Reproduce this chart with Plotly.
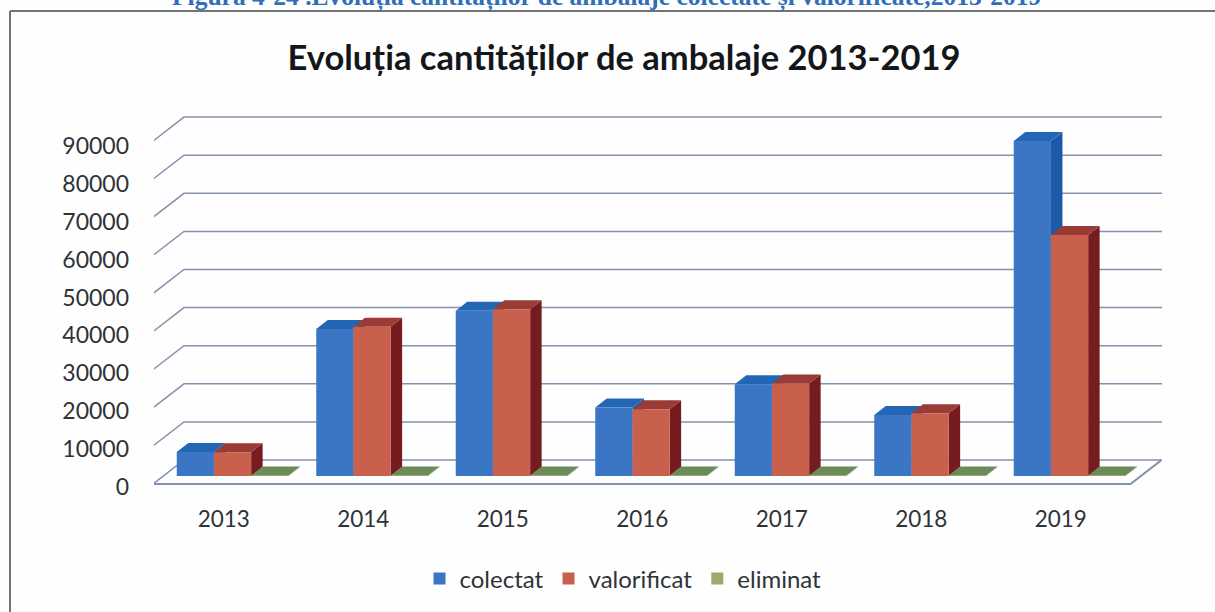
import plotly.graph_objects as go

years = [2013, 2014, 2015, 2016, 2017, 2018, 2019]
colectat = [6300, 38600, 43400, 18000, 24050, 16000, 87900]
valorificat = [6250, 39200, 43750, 17500, 24300, 16450, 63250]
eliminat = [100, 100, 100, 100, 100, 100, 100]
y_ticks = [0, 10000, 20000, 30000, 40000, 50000, 60000, 70000, 80000, 90000]

W, H = 1215, 612
L, R, T, B = 154, 53, 100, 122
BELOW_FLOOR = 6
PX_YEAR = 139.5
PX_UNIT = 38.1 / 10000
LABEL_PX_UNIT = 37.8 / 10000   # the tick labels of the picture sit a little apart from its gridlines
LABEL_DROP = 3.5
to_x = lambda px: px / PX_YEAR
to_y = lambda px: px / PX_UNIT
paper_x = lambda px: (px - L) / (W - L - R)
paper_y = lambda px: (H - B - px) / (H - T - B)

x_range = [2012.5, 2012.5 + to_x(W - L - R)]
y_range = [-to_y(BELOW_FLOOR), to_y(H - T - B - BELOW_FLOOR)]
label_range = [-LABEL_DROP / LABEL_PX_UNIT, (H - T - B - LABEL_DROP) / LABEL_PX_UNIT]
BAR_W = to_x(37.2)
BAR_START = to_x(-47)
BASE = to_y(8)
DX, DY = to_x(11.5), to_y(9)
WALL_DX, WALL_DY = to_x(31), to_y(24)
FLOOR_L, FLOOR_R = 2012.5 - to_x(1), 2019.5

GRID = "#8492AC"
series = [
    ("colectat", colectat, "#3A76C4", "#2466B6", "#1B5AA6"),
    ("valorificat", valorificat, "#C9604E", "#9A3B36", "#761C1F"),
    ("eliminat", eliminat, "#9AAB6A", "#6B8C5A", "#5A7A4C"),
]


def poly(pts, fill):
    path = "M" + " L".join(f"{a},{b}" for a, b in pts) + " Z"
    return dict(type="path", path=path, xref="x", yref="y", layer="below",
                fillcolor=fill, line=dict(width=0))


shapes = []
for t in y_ticks:
    shapes.append(dict(
        type="path", xref="x", yref="y", layer="below",
        path=(f"M{FLOOR_L},{t} L{FLOOR_L + WALL_DX},{t + WALL_DY} "
              f"L{x_range[1]},{t + WALL_DY}"),
        line=dict(color=GRID, width=1.5)))
shapes.append(dict(
    type="path", xref="x", yref="y", layer="below",
    path=(f"M{FLOOR_L},0 L{FLOOR_R},0 L{FLOOR_R + WALL_DX},{WALL_DY}"),
    line=dict(color=GRID, width=2)))

for k, (name, vals, front, top, side) in enumerate(series):
    off = BAR_START + k * BAR_W
    for yr, v in zip(years, vals):
        x0, x1 = yr + off, yr + off + BAR_W
        y0, y1 = BASE, BASE + v
        shapes.append(poly([(x1, y0), (x1 + DX, y0 + DY), (x1 + DX, y1 + DY), (x1, y1)], side))
        shapes.append(poly([(x0, y1), (x0 + DX, y1 + DY), (x1 + DX, y1 + DY), (x1, y1)], top))

# picture frame and caption
shapes.append(dict(type="line", xref="paper", yref="paper", x0=paper_x(10), x1=paper_x(W),
                   y0=paper_y(11), y1=paper_y(11), line=dict(color="#6F7478", width=2)))
shapes.append(dict(type="line", xref="paper", yref="paper", x0=paper_x(10), x1=paper_x(10),
                   y0=paper_y(11), y1=paper_y(H), line=dict(color="#6F7478", width=2)))

fig = go.Figure()
for k, (name, vals, front, top, side) in enumerate(series):
    fig.add_trace(go.Bar(
        name=name, x=years, y=vals, base=BASE,
        width=BAR_W, offset=BAR_START + k * BAR_W,
        marker=dict(color=front, line=dict(width=0)),
    ))
# carries the axis that holds the value labels; it draws nothing itself
fig.add_trace(go.Scatter(x=[years[0]] * len(y_ticks), y=y_ticks, yaxis="y2", mode="none",
                         showlegend=False, hoverinfo="skip"))

fig.update_layout(
    width=W, height=H,
    margin=dict(l=L, r=R, t=T, b=B, autoexpand=False),
    paper_bgcolor="#FEFEFE", plot_bgcolor="rgba(0,0,0,0)",
    barmode="overlay",
    font=dict(family="Lato, Carlito, sans-serif", color="#2E3338"),
    title=dict(text="<b>Evoluția cantităților de ambalaje 2013-2019</b>",
               x=624 / W, xanchor="center", y=1 - 58 / H, yanchor="middle",
               font=dict(size=34.5, color="#14171A")),
    xaxis=dict(range=x_range, tickvals=years, ticktext=[str(y) for y in years],
               showgrid=False, zeroline=False, showline=False, ticks="",
               ticklabelstandoff=13, tickfont=dict(size=22.5)),
    yaxis=dict(range=y_range, showticklabels=False,
               showgrid=False, zeroline=False, showline=False, ticks=""),
    yaxis2=dict(range=label_range, overlaying="y", anchor="x", side="left",
                tickvals=y_ticks, ticktext=[str(t) for t in y_ticks],
                showgrid=False, zeroline=False, showline=False, ticks="",
                ticklabelstandoff=24, tickfont=dict(size=23)),
    legend=dict(orientation="h", x=paper_x(623), xanchor="center",
                y=paper_y(579), yanchor="middle", font=dict(size=24),
                bgcolor="rgba(0,0,0,0)"),
    shapes=shapes,
    annotations=[dict(
        text="<b>Figura 4-24 .Evoluția cantităților de ambalaje colectate și valorificate,2013-2019</b>",
        xref="paper", yref="paper", x=paper_x(606), y=paper_y(-3), xanchor="center", yanchor="middle",
        showarrow=False, font=dict(family="Liberation Serif", size=25.5, color="#2F6EBA"))],
)

fig.write_html("out.html", config={"displayModeBar": False},
               post_script="document.body.style.margin='0';")
